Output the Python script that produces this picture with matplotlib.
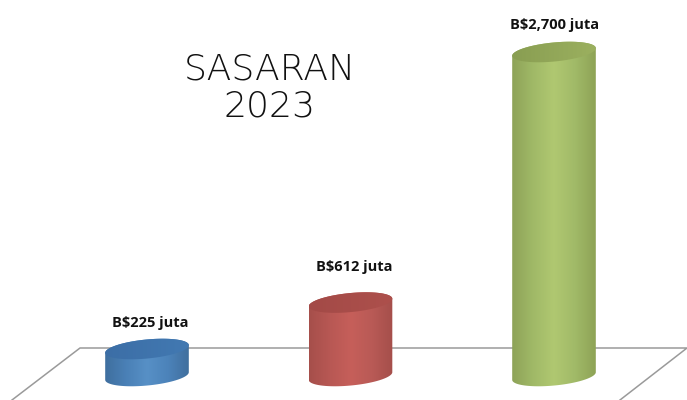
import numpy as np
import matplotlib
matplotlib.use("Agg")
import matplotlib.pyplot as plt
from matplotlib.colors import LinearSegmentedColormap
from matplotlib.patches import Polygon

values = [225, 612, 2700]
labels = ["B$225 juta", "B$612 juta", "B$2,700 juta"]
side_colors = [
    ["#3f6f9f", "#4a80b6", "#5790c6", "#4c83ba", "#406f9e"],
    ["#a64f4b", "#b85854", "#c65f5a", "#b95a56", "#a54f4b"],
    ["#8ea358", "#a0b967", "#b0c871", "#a1ba68", "#8ea356"],
]
top_colors = [
    ["#3c6ea6", "#4279b2"],
    ["#a34a47", "#ad504c"],
    ["#899e52", "#9bb05f"],
]

# pixels per unit
px_per_cat = 203.5
px_per_val = 0.12
half_w = 42
half_h = 9.5
tilt = np.radians(5.5)

fig = plt.figure(figsize=(6.87, 4.0), dpi=100)
ax = fig.add_axes([0, 0, 1, 1])
ax.axis("off")
xlim = (-147 / px_per_cat, (687 - 147) / px_per_cat)
ylim = (-24 / px_per_val, 376 / px_per_val)


def ellipse(cx, val, t):
    dx = half_w * np.cos(t) * np.cos(tilt) - half_h * np.sin(t) * np.sin(tilt)
    dy = half_w * np.cos(t) * np.sin(tilt) + half_h * np.sin(t) * np.cos(tilt)
    return cx + dx / px_per_cat, val + dy / px_per_val


def gradient(cmap, patch, cx, y0, y1, z):
    ax.add_patch(patch)
    patch.set_facecolor("none")
    patch.set_edgecolor("none")
    grad = np.linspace(0, 1, 200).reshape(1, -1)
    w = half_w / px_per_cat
    im = ax.imshow(grad, cmap=cmap, aspect="auto", extent=(cx - w, cx + w, y0, y1), zorder=z)
    im.set_clip_path(patch)


# floor
floor = 376 - 348
fx = np.array([12, 80, 687, 620])
fy = np.array([-24, floor, floor, -24])
ax.plot((fx - 147) / px_per_cat, fy / px_per_val, color="#9a9a9a", lw=1.1, zorder=1)

label_dx = [3, 4, 1]
label_dy = [26, 36, 27]

for i, val in enumerate(values):
    lo = np.linspace(np.pi, 2 * np.pi, 60)
    hi = np.linspace(0, np.pi, 60)
    bx, by = ellipse(i, 0, lo)
    tx, ty = ellipse(i, val, hi)
    side = Polygon(np.column_stack([np.r_[bx, tx], np.r_[by, ty]]), closed=True)
    pad = 20 / px_per_val
    cmap = LinearSegmentedColormap.from_list("side", side_colors[i])
    gradient(cmap, side, i, -pad, val + pad, 3)

    t = np.linspace(0, 2 * np.pi, 120)
    ex, ey = ellipse(i, val, t)
    top = Polygon(np.column_stack([ex, ey]), closed=True)
    cmap = LinearSegmentedColormap.from_list("top", top_colors[i])
    gradient(cmap, top, i, val - pad, val + pad, 4)

    ax.text(i + label_dx[i] / px_per_cat, val + label_dy[i] / px_per_val, labels[i],
            ha="center", va="center", fontsize=10.5, fontweight="bold",
            family="Open Sans", color="#111111", zorder=5)

ax.text(xlim[0] + 270 / px_per_cat, ylim[1] - 88 / px_per_val, "SASARAN\n2023",
        ha="center", va="center", fontsize=26, color="#111111",
        family="DejaVu Sans", fontweight="light", linespacing=1.13)

ax.set_xlim(xlim)
ax.set_ylim(ylim)
fig.savefig("out.png", dpi=100)
